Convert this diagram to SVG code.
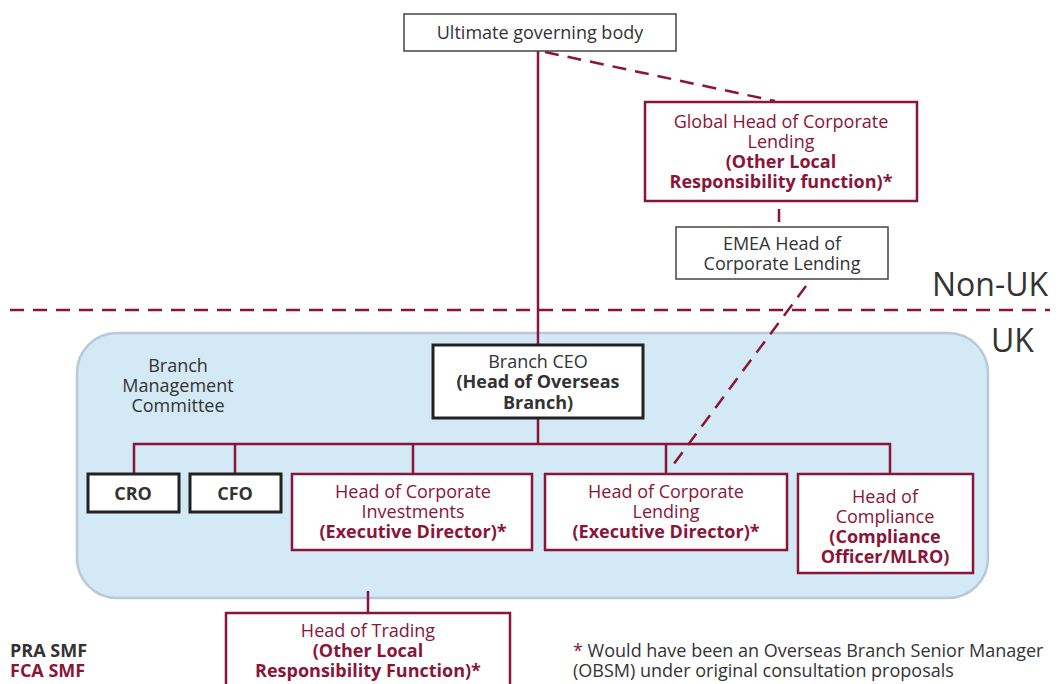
<svg xmlns="http://www.w3.org/2000/svg" width="1060" height="684" viewBox="0 0 1060 684">
<style>
text{font-family:"Open Sans","Noto Sans","Liberation Sans",sans-serif;font-size:18px;text-anchor:middle;fill:#333}
.m{fill:#8a1538}
.b{font-weight:bold}
.big{font-size:32px;text-anchor:start}
.l{text-anchor:start}
.bm{fill:#fff;stroke:#8a1538;stroke-width:2.5}
.bd{fill:#fff;stroke:#222;stroke-width:3}
.bt{fill:#fff;stroke:#444;stroke-width:1.5}
.c{fill:none;stroke:#8a1538;stroke-width:2.5}
.d{fill:none;stroke:#8a1538;stroke-width:2.5;stroke-dasharray:14 9}
</style>
<rect x="77" y="333" width="911" height="265" rx="40" fill="#d3e9f5" stroke="#b9c9d8" stroke-width="2.5"/>
<g id="connectors">
<line class="c" x1="538" y1="51" x2="538" y2="345"/>
<line class="d" x1="545" y1="52" x2="775" y2="101"/>
<line class="c" x1="779" y1="209" x2="779" y2="222"/>
<line class="d" x1="806" y1="286" x2="673" y2="465"/>
<line class="d" x1="10" y1="310" x2="1050" y2="310"/>
<polyline class="c" points="538,418 538,444"/>
<polyline class="c" points="134,474 134,444 890,444 890,474"/>
<line class="c" x1="235" y1="444" x2="235" y2="474"/>
<line class="c" x1="413" y1="444" x2="413" y2="474"/>
<line class="c" x1="666" y1="444" x2="666" y2="474"/>
<line class="c" x1="368" y1="591" x2="368" y2="613"/>
</g>
<g id="ultimate"><rect class="bt" x="404" y="14" width="272" height="37"/><text x="540" y="39">Ultimate governing body</text></g>
<g id="global"><rect class="bm" x="645" y="102" width="272" height="99"/>
<text class="m" x="781" y="128">Global Head of Corporate</text><text class="m" x="781" y="148">Lending</text>
<text class="m b" x="781" y="168">(Other Local</text><text class="m b" x="781" y="188">Responsibility function)*</text></g>
<g id="emea"><rect class="bt" x="676" y="227" width="212" height="52"/><text x="782" y="250">EMEA Head of</text><text x="782" y="270">Corporate Lending</text></g>
<text class="big" x="932" y="296">Non-UK</text>
<text class="big" x="991" y="352">UK</text>
<g id="bmc"><text x="178" y="372">Branch</text><text x="178" y="392">Management</text><text x="178" y="412">Committee</text></g>
<g id="ceo"><rect class="bd" x="433" y="345" width="210" height="73"/>
<text x="538" y="368">Branch CEO</text><text class="b" x="538" y="388">(Head of Overseas</text><text class="b" x="538" y="409">Branch)</text></g>
<g id="cro"><rect class="bd" x="88" y="474" width="91" height="38"/><text class="b" x="133" y="500">CRO</text></g>
<g id="cfo"><rect class="bd" x="190" y="474" width="91" height="38"/><text class="b" x="235" y="500">CFO</text></g>
<g id="hci"><rect class="bm" x="292" y="474" width="240" height="76"/>
<text class="m" x="413" y="498">Head of Corporate</text><text class="m" x="413" y="518">Investments</text><text class="m b" x="413" y="538">(Executive Director)*</text></g>
<g id="hcl"><rect class="bm" x="545" y="474" width="242" height="76"/>
<text class="m" x="666" y="498">Head of Corporate</text><text class="m" x="666" y="518">Lending</text><text class="m b" x="666" y="538">(Executive Director)*</text></g>
<g id="hc"><rect class="bm" x="798" y="474" width="175" height="99"/>
<text class="m" x="885" y="503">Head of</text><text class="m" x="885" y="523">Compliance</text><text class="m b" x="885" y="543">(Compliance</text><text class="m b" x="885" y="563">Officer/MLRO)</text></g>
<g id="trading"><rect class="bm" x="226" y="613" width="284" height="80"/>
<text class="m" x="368" y="637">Head of Trading</text><text class="m b" x="368" y="657">(Other Local</text><text class="m b" x="368" y="677">Responsibility Function)*</text></g>
<g id="legend"><text class="b l" x="10" y="657">PRA SMF</text><text class="m b l" x="10" y="677">FCA SMF</text></g>
<g id="note"><text class="l" x="573" y="657"><tspan class="m">*</tspan> Would have been an Overseas Branch Senior Manager</text><text class="l" x="573" y="677">(OBSM) under original consultation proposals</text></g>
</svg>
